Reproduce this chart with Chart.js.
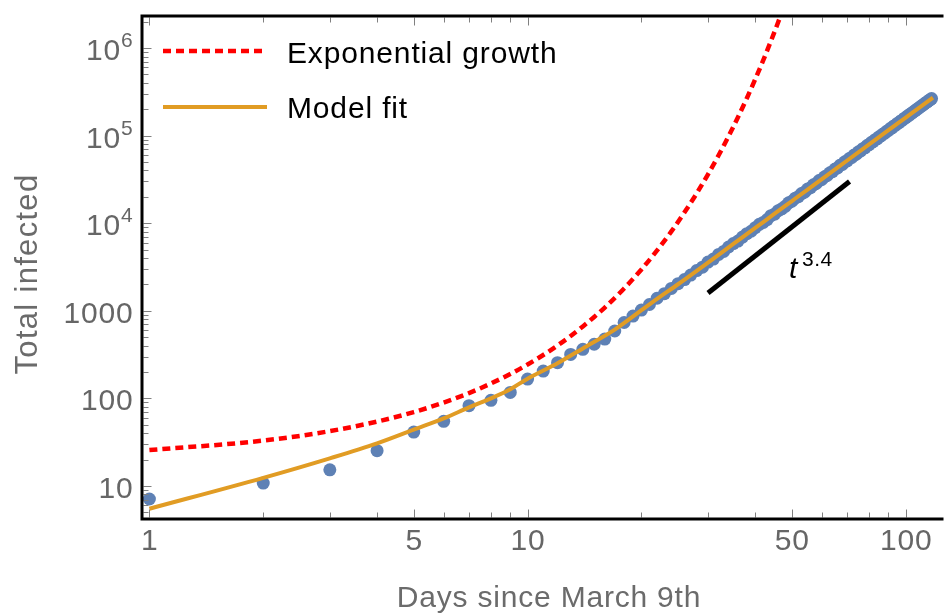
<!DOCTYPE html>
<html>
<head>
<meta charset="utf-8">
<script src="https://cdn.jsdelivr.net/npm/chart.js@4.4.1/dist/chart.umd.min.js"></script>
<style>
  html, body { margin: 0; padding: 0; background: #fff; }
  canvas { display: block; }
</style>
</head>
<body>
<canvas id="chart" width="948" height="616"></canvas>
<script>
// Reported cumulative cases, one per day since March 9th
const days = [
  1, 2, 3, 4, 5, 6, 7, 8, 9, 10, 11, 12, 13, 14, 15, 16, 17, 18, 19, 20,
  21, 22, 23, 24, 25, 26, 27, 28, 29, 30, 31, 32, 33, 34, 35, 36, 37, 38, 39, 40,
  41, 42, 43, 44, 45, 46, 47, 48, 49, 50, 51, 52, 53, 54, 55, 56, 57, 58, 59, 60,
  61, 62, 63, 64, 65, 66, 67, 68, 69, 70, 71, 72, 73, 74, 75, 76, 77, 78, 79, 80,
  81, 82, 83, 84, 85, 86, 87, 88, 89, 90, 91, 92, 93, 94, 95, 96, 97, 98, 99, 100,
  101, 102, 103, 104, 105, 106, 107, 108, 109, 110, 111, 112, 113, 114, 115, 116, 117
];
const infected = [
  7.1, 10.8, 15.3, 25.3, 41.3, 54.8, 82.6, 95, 117, 166, 205, 256, 318, 363, 415, 476, 588, 735, 870, 1020,
  1180, 1390, 1570, 1800, 2040, 2270, 2560, 2880, 3150, 3600, 3900, 4400, 4760, 5350, 5850, 6250, 6950, 7600, 8100, 8900,
  9700, 10200, 11000, 12200, 12700, 13900, 14600, 15600, 17100, 17800, 19300, 20100, 21800, 22600, 24500, 25400, 27400, 28400, 30700, 31600,
  33900, 35100, 37700, 38800, 41600, 42700, 45800, 47000, 50200, 51600, 54900, 56300, 59900, 61400, 65300, 66900, 71000, 72600, 76900, 78800,
  83300, 85200, 89900, 91900, 96900, 99100, 104400, 106500, 112200, 114400, 120300, 122700, 128900, 131400, 137800, 140500, 147200, 150000, 157000, 160000,
  167000, 170500, 177500, 181500, 188500, 193000, 200000, 204500, 212000, 217000, 224500, 229500, 237500, 243000, 251000, 256500, 265000
];

// Model fit curve
const fitDays = [1, 2, 3, 4, 5, 6, 7, 8, 9, 10, 12, 14, 17, 20, 22, 25, 28, 30, 35, 40, 45, 50, 55, 60, 70, 80, 90, 100, 110, 118];
const fitValues = [5.5, 12.4, 20.7, 30.7, 44, 59, 79, 100, 127, 168, 252, 372, 610, 1015, 1370, 2010, 2858, 3556, 5794, 8846,
  12830, 17920, 24240, 31920, 52000, 79350, 115190, 160840, 217500, 271700];

// Exponential growth curve
const expDays = [1, 2, 3, 4, 5, 6, 7, 8, 9, 10, 11, 12, 13, 14, 15, 16, 18, 20, 22, 24, 26, 28, 30, 32, 34, 36, 38, 40, 42, 44, 46, 48];
const expValues = [25.7, 33, 42.3, 54.4, 69.8, 89.6, 115, 148, 190, 244, 313, 402, 516, 663, 851, 1090, 1800, 2970, 4890, 8070,
  13300, 21900, 36200, 59600, 98300, 162000, 267000, 441000, 727000, 1200000, 1980000, 3260000];

// Power-law guide, exponent 3.4
const slopeExponent = 3.4;
const slopeDays = [30, 71];
const slopeValues = [1600, 29900];

// Axis ticks
const xTickValues = [1, 5, 10, 50, 100];
const xTickLabels = ['1', '5', '10', '50', '100'];
const yTickValues = [10, 100, 1000, 1e4, 1e5, 1e6];
const yTickBase = ['10', '100', '1000', '10', '10', '10'];
const yTickExp = ['', '', '', '4', '5', '6'];

const FONT = "'Liberation Sans', Arial, Helvetica, sans-serif";
const BLUE = '#5e81b5';
const ORANGE = '#e19c24';
const RED = '#ff0000';

const pts = (xs, ys) => xs.map((v, i) => ({ x: v, y: ys[i] }));

function setSpacing(ctx, px) {
  if ('letterSpacing' in ctx) ctx.letterSpacing = px + 'px';
}

const decorations = {
  id: 'decorations',
  afterDatasetsDraw(chart) {
    const { ctx, chartArea: a, scales: { x, y } } = chart;
    ctx.save();

    // tick marks, drawn inward from the frame
    ctx.strokeStyle = '#808080';
    ctx.lineWidth = 1;
    ctx.beginPath();
    for (let d = 1; d <= 100; d *= 10) {
      for (let m = 1; m <= 9; m++) {
        const v = m * d;
        if (v < x.min || v > x.max) continue;
        const px = Math.round(x.getPixelForValue(v)) + 0.5;
        const len = xTickValues.includes(v) ? 8 : 5;
        ctx.moveTo(px, a.bottom - 1.5);
        ctx.lineTo(px, a.bottom - 1.5 - len);
        ctx.moveTo(px, a.top + 1.5);
        ctx.lineTo(px, a.top + 1.5 + len);
      }
    }
    for (let d = 1; d <= 1e6; d *= 10) {
      for (let m = 1; m <= 9; m++) {
        const v = m * d;
        if (v < y.min || v > y.max) continue;
        const py = Math.round(y.getPixelForValue(v)) + 0.5;
        const len = yTickValues.includes(v) ? 8 : 5;
        ctx.moveTo(a.left + 1.5, py);
        ctx.lineTo(a.left + 1.5 + len, py);
      }
    }
    ctx.stroke();

    // frame
    ctx.strokeStyle = '#000';
    ctx.lineWidth = 3;
    ctx.beginPath();
    ctx.moveTo(a.right + 2, a.top);
    ctx.lineTo(a.left, a.top);
    ctx.lineTo(a.left, a.bottom);
    ctx.lineTo(a.right + 2, a.bottom);
    ctx.stroke();

    // tick labels
    ctx.fillStyle = '#666';
    ctx.textBaseline = 'alphabetic';
    setSpacing(ctx, 0.8);
    ctx.font = `30px ${FONT}`;
    ctx.textAlign = 'center';
    xTickValues.forEach((v, i) => {
      ctx.fillText(xTickLabels[i], x.getPixelForValue(v) + 0.4, 550);
    });
    const right = 133.5;
    yTickValues.forEach((v, i) => {
      const py = y.getPixelForValue(v) + 12;
      ctx.textAlign = 'right';
      if (yTickExp[i]) {
        ctx.font = `21px ${FONT}`;
        const ew = ctx.measureText(yTickExp[i]).width;
        ctx.fillText(yTickExp[i], right, py - 13);
        ctx.font = `30px ${FONT}`;
        ctx.fillText(yTickBase[i], right - ew, py);
      } else {
        ctx.font = `30px ${FONT}`;
        ctx.fillText(yTickBase[i], right, py);
      }
    });

    // axis titles
    ctx.fillStyle = '#6b6b6b';
    ctx.font = `30px ${FONT}`;
    ctx.textAlign = 'center';
    ctx.fillText('Days since March 9th', 549, 607);
    ctx.save();
    setSpacing(ctx, 1.3);
    ctx.font = `31px ${FONT}`;
    ctx.translate(37, 274);
    ctx.rotate(-Math.PI / 2);
    ctx.fillText('Total infected', 0, 0);
    ctx.restore();

    // legend
    ctx.lineCap = 'butt';
    ctx.strokeStyle = RED;
    ctx.lineWidth = 4.5;
    ctx.setLineDash([8, 5]);
    ctx.beginPath();
    ctx.moveTo(163, 51);
    ctx.lineTo(265, 51);
    ctx.stroke();
    ctx.setLineDash([]);
    ctx.strokeStyle = ORANGE;
    ctx.lineWidth = 4;
    ctx.beginPath();
    ctx.moveTo(163, 107);
    ctx.lineTo(267, 107);
    ctx.stroke();
    ctx.fillStyle = '#000';
    ctx.textAlign = 'left';
    setSpacing(ctx, 0.85);
    ctx.font = `30px ${FONT}`;
    ctx.fillText('Exponential growth', 287, 63);
    ctx.fillText('Model fit', 287, 118);

    // power-law label next to the guide line
    setSpacing(ctx, 0);
    ctx.font = `italic 30px ${FONT}`;
    ctx.fillText('t', 789, 278);
    ctx.font = `21px ${FONT}`;
    setSpacing(ctx, 0.5);
    ctx.fillText(String(slopeExponent), 802, 266);

    ctx.restore();
  }
};

new Chart(document.getElementById('chart'), {
  type: 'scatter',
  data: {
    datasets: [
      {
        label: 'Model fit',
        data: pts(fitDays, fitValues),
        showLine: true,
        borderColor: ORANGE,
        borderWidth: 4,
        pointRadius: 0,
        cubicInterpolationMode: 'monotone',
        fill: false
      },
      {
        label: 'Data',
        data: pts(days, infected),
        showLine: false,
        pointRadius: 6.5,
        pointBackgroundColor: BLUE,
        pointBorderWidth: 0,
        pointBorderColor: BLUE
      },
      {
        label: 'Exponential growth',
        data: pts(expDays, expValues),
        showLine: true,
        borderColor: RED,
        borderWidth: 4.5,
        borderDash: [8, 5],
        pointRadius: 0,
        cubicInterpolationMode: 'monotone',
        fill: false
      },
      {
        label: 't^3.4',
        data: pts(slopeDays, slopeValues),
        showLine: true,
        borderColor: '#000',
        borderWidth: 5,
        pointRadius: 0,
        fill: false
      }
    ]
  },
  options: {
    responsive: false,
    devicePixelRatio: 1,
    animation: false,
    layout: { padding: { left: 142, top: 16, right: 0, bottom: 97 } },
    plugins: { legend: { display: false }, tooltip: { enabled: false } },
    scales: {
      x: { type: 'logarithmic', min: 0.956, max: 124.3, bounds: 'data', display: false },
      y: { type: 'logarithmic', min: 4.2, max: 2.32e6, bounds: 'data', display: false }
    }
  },
  plugins: [decorations]
});
</script>
</body>
</html>
